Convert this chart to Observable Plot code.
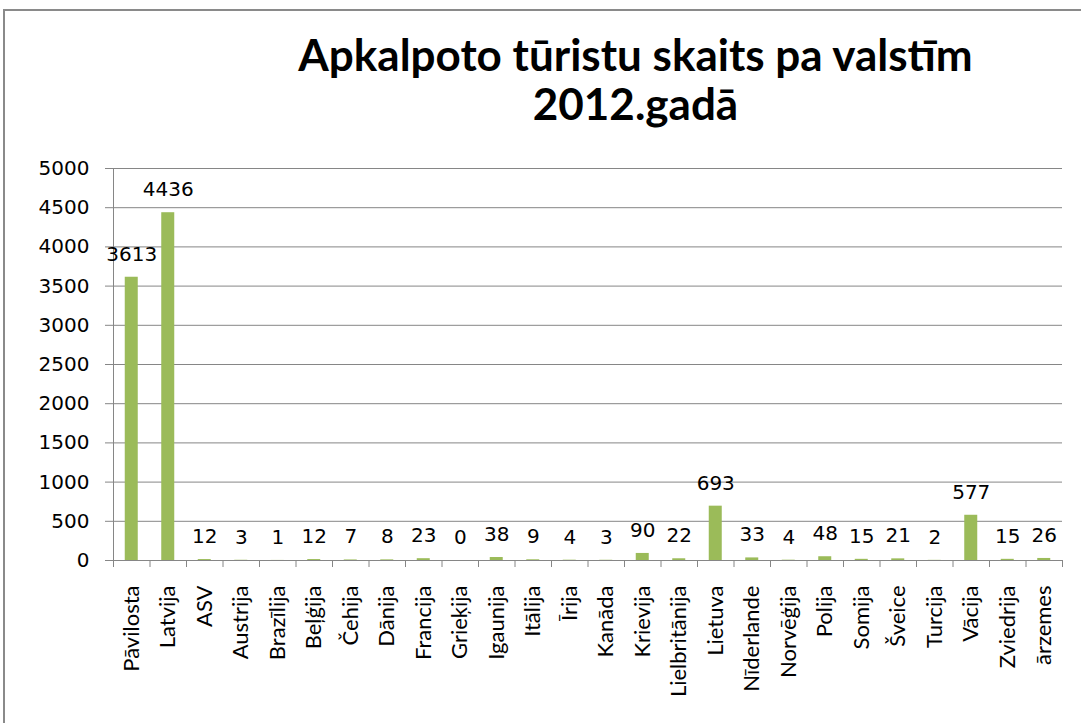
<!DOCTYPE html>
<html>
<head>
<meta charset="utf-8">
<script src="https://cdn.jsdelivr.net/npm/d3@7"></script>
<script src="https://cdn.jsdelivr.net/npm/@observablehq/plot@0.6"></script>
<style>
  html, body { margin: 0; padding: 0; background: #fff; width: 1081px; height: 723px; overflow: hidden; }
  #frame { position: absolute; left: 3px; top: 9px; width: 1200px; height: 800px; border-left: 2px solid #8a8a8a; border-top: 2px solid #8a8a8a; }
  #title { position: absolute; left: 190px; top: 30px; width: 891px; text-align: center; font-family: Lato, sans-serif; font-weight: bold; font-size: 44px; line-height: 49px; color: #000; }
  #chart { position: absolute; left: 0; top: 150px; }
</style>
</head>
<body>
<div id="frame"></div>
<div id="title">Apkalpoto tūristu skaits pa valstīm<br>2012.gadā</div>
<div id="chart"></div>
<script>
const categories = ["Pāvilosta","Latvija","ASV","Austrija","Brazīlija","Beļģija","Čehija","Dānija","Francija","Grieķija","Igaunija","Itālija","Īrija","Kanāda","Krievija","Lielbritānija","Lietuva","Nīderlande","Norvēģija","Polija","Somija","Šveice","Turcija","Vācija","Zviedrija","ārzemes"];
const values = [3613,4436,12,3,1,12,7,8,23,0,38,9,4,3,90,22,693,33,4,48,15,21,2,577,15,26];
const yTicks = [0,500,1000,1500,2000,2500,3000,3500,4000,4500,5000];

const data = categories.map((c, i) => ({country: c, value: values[i]}));

const W = 1081, H = 573, mL = 113, mR = 19, mT = 18, mB = 163;
const bw = (W - mL - mR) / categories.length;
const barW = 13;
const grid = "#868686";

const chart = Plot.plot({
  width: W, height: H,
  marginLeft: mL, marginRight: mR, marginTop: mT, marginBottom: mB,
  style: {fontFamily: "Lato, sans-serif", background: "transparent", color: "#000", overflow: "visible"},
  x: {domain: categories, padding: 0, round: false, label: null},
  y: {domain: [0, 5000], label: null},
  marks: [
    Plot.gridY(yTicks, {stroke: grid, strokeOpacity: 1, strokeWidth: 1}),
    Plot.axisY({ticks: yTicks, tickSize: 8, tickPadding: 16, fontSize: 20, fontFamily: "DejaVu Sans, sans-serif", stroke: grid, fill: "#000", tickFormat: d => String(d), label: null}),
    Plot.ruleX([categories[0]], {x: d => d, y1: 0, y2: 5000, dx: -bw / 2, stroke: grid}),
    Plot.ruleX(categories, {x: d => d, y1: 0, y2: 0, insetBottom: -7, dx: -bw / 2, stroke: grid}),
    Plot.ruleX([categories[categories.length - 1]], {x: d => d, y1: 0, y2: 0, insetBottom: -7, dx: bw / 2, stroke: grid}),
    Plot.barY(data, {x: "country", y: "value", fill: "#9BBB59", insetLeft: (bw - barW) / 2, insetRight: (bw - barW) / 2}),
    Plot.axisX({tickSize: 0, tickPadding: 25, tickRotate: -90, fontSize: 22, fontFamily: "Lato, sans-serif", fill: "#000", label: null}),
    Plot.text(data, {x: "country", y: "value", text: d => String(d.value), dy: -23, fontSize: 20, fontFamily: "DejaVu Sans, sans-serif", fill: "#000"})
  ]
});
document.getElementById("chart").appendChild(chart);
</script>
</body>
</html>
